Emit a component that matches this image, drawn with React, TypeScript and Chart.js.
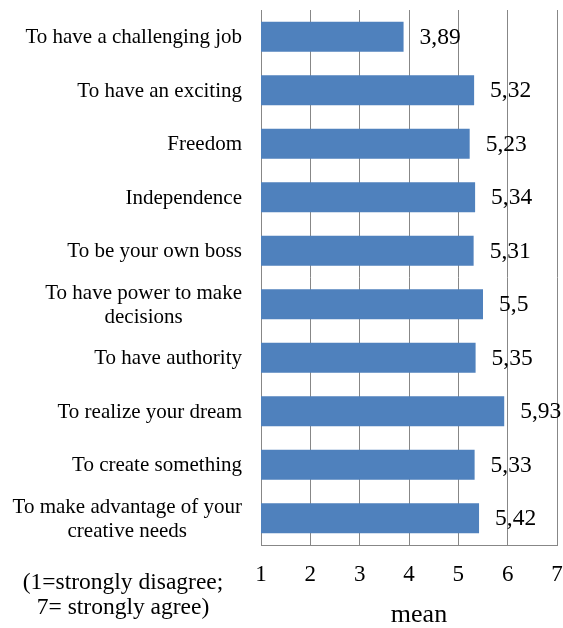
import React, { useEffect, useRef } from "react";
import { Chart, registerables } from "chart.js";

Chart.register(...registerables);

const categories: (string | string[])[] = [
  "To have a challenging job",
  "To have an exciting ",
  "Freedom",
  "Independence",
  "To be your own boss",
  ["To have power to make", "decisions"],
  "To have authority",
  "To realize your dream",
  "To create something",
  ["To make advantage of your", "creative needs"],
];

const meanValues: number[] = [3.89, 5.32, 5.23, 5.34, 5.31, 5.5, 5.35, 5.93, 5.33, 5.42];

const xTicks: number[] = [1, 2, 3, 4, 5, 6, 7];

const axisTitle = "mean";
const noteLines: string[] = ["(1=strongly disagree;", "7= strongly agree)"];

const SERIF = '"Liberation Serif", "Times New Roman", serif';
const GRID = "#878787";
const BAR = "#4F81BD";

const fmt = (v: number) => String(v).replace(".", ",");

const labelPlugin = {
  id: "customLabels",
  afterDraw(chart: any) {
    const ctx = chart.ctx;
    const yScale = chart.scales.y;
    const xScale = chart.scales.x;
    ctx.save();
    ctx.fillStyle = "#000";

    // category labels: block right-aligned, lines centered
    ctx.font = `21px ${SERIF}`;
    ctx.textBaseline = "middle";
    ctx.textAlign = "center";
    const rightEdge = 242;
    const lineH = 24;
    categories.forEach((cat, i) => {
      const lines = Array.isArray(cat) ? cat : [cat];
      const yc = yScale.getPixelForValue(i) + 1;
      const maxW = Math.max(...lines.map((l) => ctx.measureText(l.trimEnd()).width));
      const cx = rightEdge - maxW / 2;
      lines.forEach((l, j) => {
        const y = yc + (j - (lines.length - 1) / 2) * lineH;
        ctx.fillText(l.trimEnd(), cx, y);
      });
    });

    // value labels
    const meta = chart.getDatasetMeta(0);
    ctx.font = `23.5px ${SERIF}`;
    ctx.textAlign = "left";
    ctx.textBaseline = "middle";
    meta.data.forEach((bar: any, i: number) => {
      ctx.fillText(fmt(meanValues[i]), bar.x + 16, bar.y + 1);
    });

    // axis title
    ctx.font = `26px ${SERIF}`;
    ctx.textAlign = "center";
    ctx.textBaseline = "alphabetic";
    const midX = (xScale.left + xScale.right) / 2 + 10;
    ctx.fillText(axisTitle, midX, 622);

    // note
    ctx.font = `23.5px ${SERIF}`;
    ctx.textBaseline = "middle";
    noteLines.forEach((l, j) => {
      ctx.fillText(l, 123, 583 + j * 25);
    });
    ctx.restore();
  },
};

export default function App() {
  const ref = useRef<HTMLCanvasElement | null>(null);
  useEffect(() => {
    if (!ref.current) return;
    const chart = new Chart(ref.current, {
      type: "bar",
      data: {
        labels: categories.map((c) => (Array.isArray(c) ? c.join(" ") : c)),
        datasets: [
          {
            data: meanValues,
            backgroundColor: BAR,
            borderWidth: 0,
            categoryPercentage: 1,
            barPercentage: 0.56,
          },
        ],
      },
      options: {
        indexAxis: "y",
        animation: false,
        responsive: false,
        maintainAspectRatio: false,
        layout: { padding: { top: 10, right: 6, left: 0, bottom: 0 } },
        plugins: {
          legend: { display: false },
          tooltip: { enabled: false },
        },
        scales: {
          x: {
            type: "linear",
            min: 1,
            max: 7,
            afterFit: (s: any) => {
              s.height = 83;
              s.paddingLeft = 0;
              s.paddingRight = 0;
            },
            afterBuildTicks: (s: any) => {
              s.ticks = xTicks.map((v) => ({ value: v }));
            },
            grid: { color: GRID, lineWidth: 1, drawTicks: false },
            border: { color: GRID, width: 1 },
            ticks: {
              padding: 16,
              color: "#000",
              font: { family: SERIF, size: 23 },
            },
          },
          y: {
            afterFit: (s: any) => {
              s.width = 261;
              s.paddingTop = 0;
              s.paddingBottom = 0;
            },
            grid: { display: false, drawTicks: false },
            border: { color: GRID, width: 1 },
            ticks: { display: false },
          },
        },
      },
      plugins: [labelPlugin],
    });
    return () => chart.destroy();
  }, []);
  return (
    <div style={{ position: "absolute", left: 0, top: 0, width: 563, height: 628 }}>
      <canvas ref={ref} width={563} height={628} />
    </div>
  );
}
